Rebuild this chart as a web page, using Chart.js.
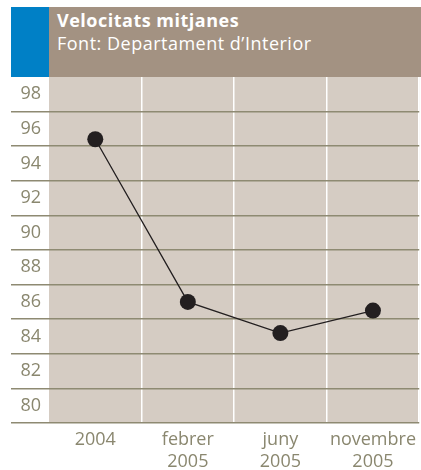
<!DOCTYPE html>
<html>
<head>
<meta charset="utf-8">
<script src="https://cdn.jsdelivr.net/npm/chart.js@4"></script>
<style>
  body { margin: 0; background: #fff; }
  #wrap { position: relative; width: 421px; height: 470px; }
  #blue { position: absolute; left: 11px; top: 7px; width: 38px; height: 70px; background: #0080c6; }
  #head { position: absolute; left: 49px; top: 7px; width: 372px; height: 70px; background: #a39282; }
  #head div { position: absolute; left: 8px; color: #fff; font-family: "Open Sans", sans-serif; font-size: 18px; letter-spacing: 0.5px; white-space: nowrap; }
  #t1 { top: 1px; font-weight: bold; }
  #t2 { top: 24px; }
  canvas { position: absolute; left: 0; top: 0; }
</style>
</head>
<body>
<div id="wrap">
  <canvas id="myChart" width="421" height="470"></canvas>
  <div id="blue"></div>
  <div id="head">
    <div id="t1">Velocitats mitjanes</div>
    <div id="t2">Font: Departament d’Interior</div>
  </div>
</div>
<script>
const labels = [['2004'], ['febrer', '2005'], ['juny', '2005'], ['novembre', '2005']];
const velocitats = [95.4, 86.0, 84.2, 85.5];
const yMin = 79;
const yMax = 99;

const textColor = '#8a876f';
const gridColor = '#8e8a72';

// fill the plot area before the grid goes on top
const plotBg = {
    id: 'plotBg',
    beforeDraw(chart) {
        const a = chart.chartArea;
        const c = chart.ctx;
        c.save();
        c.fillStyle = '#d5ccc3';
        c.fillRect(a.left, a.top, a.right - a.left, a.bottom - a.top);
        c.restore();
    }
};

const ctx = document.getElementById('myChart').getContext('2d');
const myChart = new Chart(ctx, {
    type: 'line',
    data: {
        labels: labels,
        datasets: [{
            data: velocitats,
            borderColor: '#231f20',
            borderWidth: 1.3,
            backgroundColor: '#231f20',
            pointRadius: 8,
            pointBorderWidth: 0,
            tension: 0
        }]
    },
    options: {
        responsive: false,
        animation: false,
        layout: { autoPadding: false, padding: { top: 77, left: 0, right: 0, bottom: 0 } },
        plugins: { legend: { display: false }, tooltip: { enabled: false } },
        scales: {
            x: {
                offset: true,
                afterFit(scale) { scale.height = 47; },
                border: { display: false },
                grid: {
                    offset: true,
                    drawTicks: false,
                    lineWidth: 1.5,
                    color: c => (c.index === 0 || c.index === labels.length) ? 'rgba(0,0,0,0)' : '#ffffff'
                },
                ticks: {
                    color: textColor,
                    padding: 5,
                    font: { family: 'Open Sans', size: 18, lineHeight: 1.27 },
                    maxRotation: 0
                }
            },
            y: {
                min: yMin,
                max: yMax,
                afterFit(scale) { scale.width = 49; },
                border: { display: false },
                grid: {
                    lineWidth: 1.5,
                    tickLength: 38,
                    color: c => (c.tick && c.tick.value % 2 !== 0 && c.tick.value !== yMax) ? gridColor : 'rgba(0,0,0,0)'
                },
                ticks: {
                    stepSize: 1,
                    autoSkip: false,
                    padding: -30,
                    color: textColor,
                    font: { family: 'Open Sans', size: 18 },
                    callback: v => v % 2 === 0 ? v : ''
                }
            }
        }
    },
    plugins: [plotBg]
});
</script>
</body>
</html>
